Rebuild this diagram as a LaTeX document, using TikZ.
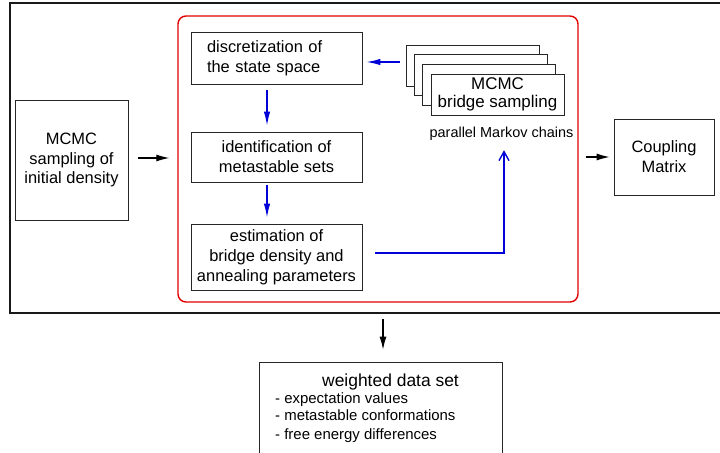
\documentclass[tikz,border=0pt]{standalone}
\usepackage{fontspec}
\setmainfont{Liberation Sans}
\usetikzlibrary{arrows.meta}
\definecolor{arrblue}{RGB}{0,0,215}
\definecolor{frame}{RGB}{225,0,0}
\begin{document}
\begin{tikzpicture}[x=1bp,y=-1bp,
  box/.style={draw=black!85, line width=0.9bp, align=center, inner sep=0pt, fill=white,
    font=\fontsize{16.5}{20}\selectfont},
  txt/.style={inner sep=0pt},
  blk/.style={-{Latex[length=13bp,width=7bp]}, line width=1.1bp, draw=black},
  blu/.style={-{Latex[length=14bp,width=6.5bp]}, line width=1.4bp, draw=arrblue},
  bluopen/.style={-{Straight Barb[length=9bp,width=10bp]}, line width=1.4bp, draw=arrblue},
]
\useasboundingbox (0,0) rectangle (720,453);

% outer frame and red frame
\node[draw=black!90, line width=2bp, minimum width=715bp, minimum height=310bp, inner sep=0pt] (outer) at (367.5,158) {};
\node[draw=frame, line width=1.4bp, rounded corners=8bp, minimum width=400bp, minimum height=286bp, inner sep=0pt] (core) at (378,159) {};

% left and right boxes
\node[box, minimum width=113bp, minimum height=120bp] (mcmc) at (71.5,160) {MCMC\\sampling of\\initial density};
\node[box, minimum width=100bp, minimum height=76bp] (coup) at (664,157) {Coupling\\Matrix};

% inner process boxes
\node[box, minimum width=171bp, minimum height=52bp, inner xsep=16bp, text width=139bp, align=left] (disc) at (276.5,58) {discretization of\\the state space};
\node[box, minimum width=171bp, minimum height=50bp] (ident) at (276.5,157) {identification of\\metastable sets};
\node[box, minimum width=171bp, minimum height=66bp] (est) at (276.5,257) {estimation of\\bridge density and\\annealing parameters};

% stacked MCMC boxes
\node[box, minimum width=133bp, minimum height=41bp] (back1) at (472.5,65.5) {};
\node[box, minimum width=133bp, minimum height=41bp] (back2) at (480.8,75.2) {};
\node[box, minimum width=133bp, minimum height=41bp] (back3) at (489.2,84.8) {};
\node[box, minimum width=133bp, minimum height=41bp, font=\fontsize{17}{17.5}\selectfont] (front) at (497.5,94.5) {MCMC\\bridge sampling};
\node[txt, anchor=base, font=\fontsize{14.5}{17}\selectfont] (par) at (501.5,138) {parallel Markov chains};

% result box
\node[draw=black!85, line width=0.9bp, minimum width=243bp, minimum height=94bp, inner sep=0pt] (res) at (380.5,409) {};
\node[txt, anchor=base west, font=\fontsize{17.5}{20}\selectfont] (rtitle) at (322,386) {weighted data set};
\node[txt, anchor=base west, font=\fontsize{15}{17}\selectfont] (r1) at (275,403) {- expectation values};
\node[txt, anchor=base west, font=\fontsize{15}{17}\selectfont] (r2) at (275,420) {- metastable conformations};
\node[txt, anchor=base west, font=\fontsize{15}{17}\selectfont] (r3) at (275,439) {- free energy differences};

% helper coordinates
\coordinate (a1) at (0,158);
\coordinate (a3) at (383,0);
\coordinate (a4) at (0,62);
\coordinate (a5) at (267,0);
\coordinate (a6) at (504,253);

% black arrows
\draw[blk, shorten <=10bp, shorten >=8bp] (mcmc.east |- a1) -- (core.west |- a1);
\draw[blk, shorten <=7bp, shorten >=4bp] (core.east |- coup.west) -- (coup.west);
\draw[blk, shorten <=5bp, shorten >=12bp] (outer.south -| a3) -- (res.north -| a3);

% blue arrows
\draw[blu, shorten <=6bp, shorten >=4bp] (back1.west |- a4) -- (disc.east |- a4);
\draw[blu, shorten <=6bp, shorten >=6bp] (disc.south -| a5) -- (ident.north -| a5);
\draw[blu, shorten <=3bp, shorten >=6bp] (ident.south -| a5) -- (est.north -| a5);
\draw[bluopen, shorten <=13bp, shorten >=9bp] (est.east |- a6) -- (a6) -- (par.south -| a6);
\end{tikzpicture}
\end{document}
